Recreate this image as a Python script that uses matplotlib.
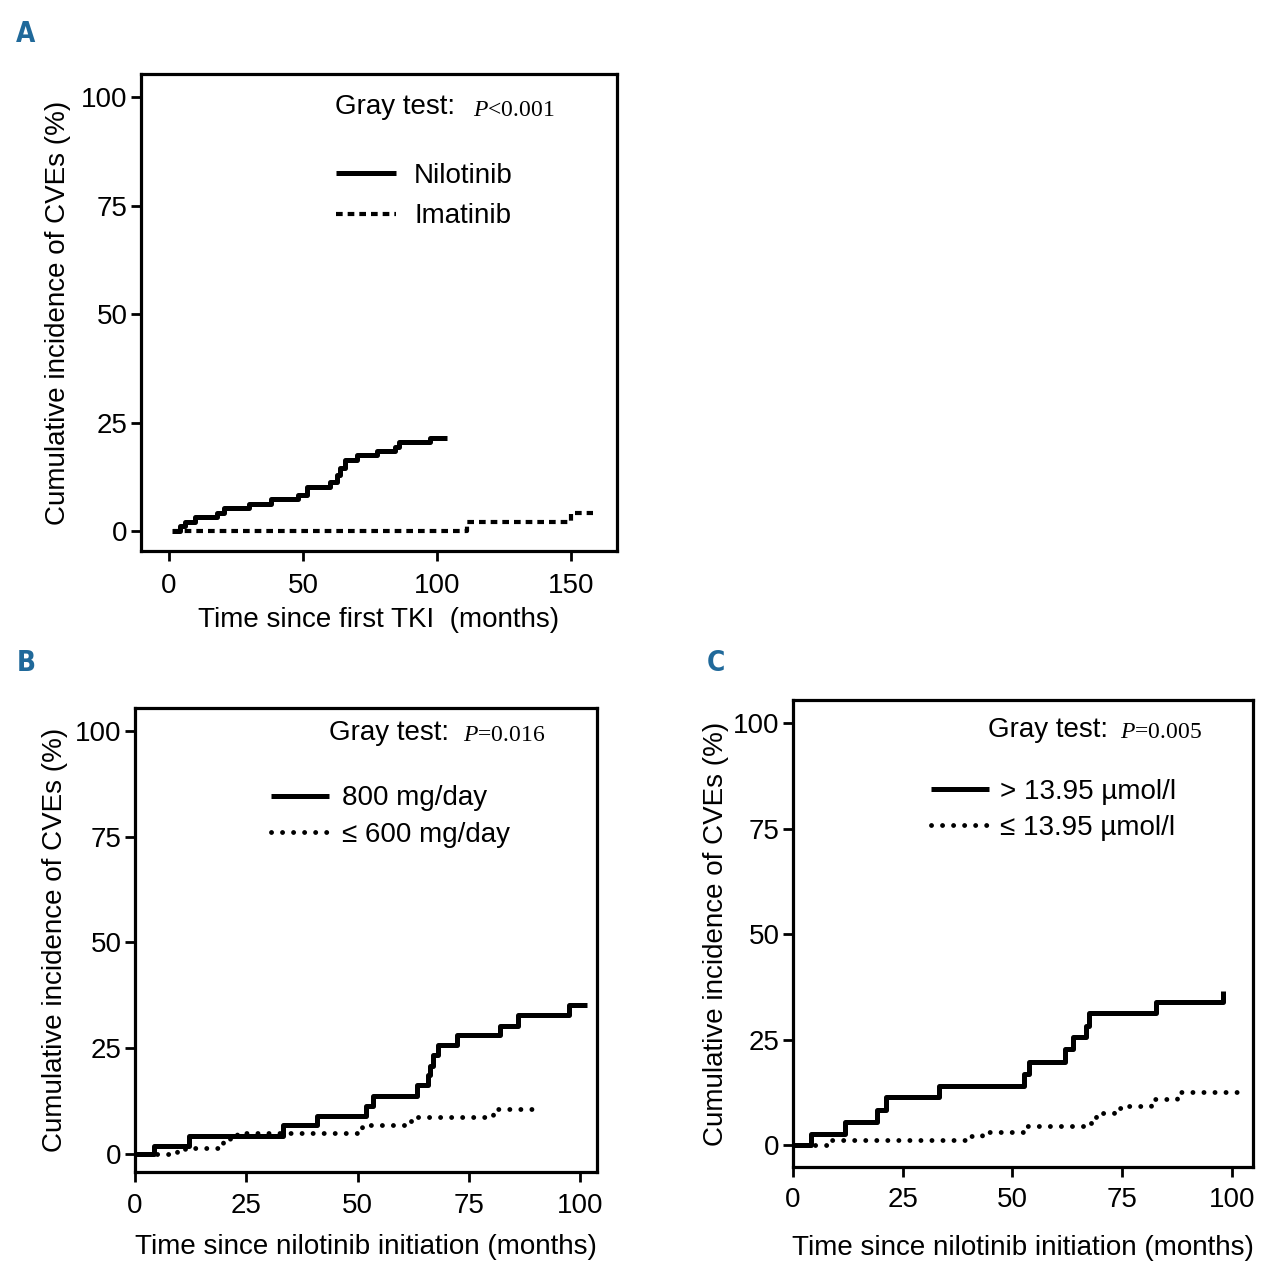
import matplotlib
matplotlib.use("Agg")
import matplotlib.pyplot as plt

plt.rcParams['font.family'] = ['Liberation Sans', 'DejaVu Sans']
plt.rcParams['mathtext.fontset'] = 'custom'
plt.rcParams['mathtext.it'] = 'Liberation Serif:italic'
plt.rcParams['mathtext.rm'] = 'Liberation Serif'

# panel A : time since first TKI
a_nilo_t = [1, 4, 6, 9.7, 17.9, 20.7, 30, 38, 48, 51.4, 60, 62.5, 63.8, 65.7, 70, 77.5, 84.4, 85.6, 97.5, 103.6]
a_nilo_y = [0, 1.2, 2, 3.3, 4.2, 5.3, 6.2, 7.4, 8.3, 10.1, 11.3, 12.9, 14.5, 16.4, 17.5, 18.5, 19.4, 20.5, 21.4, 21.4]
a_ima_t = [1.5, 111, 150, 158]
a_ima_y = [0, 2.1, 4.1, 4.1]

# panel B : nilotinib dose
b_800_t = [0, 4.3, 12.2, 33.2, 40.8, 52, 53.4, 63.3, 65.8, 66.3, 67, 68, 72.3, 81.9, 86.1, 97.4, 101.5]
b_800_y = [0, 1.9, 4.2, 6.8, 9.0, 11.3, 13.7, 16.3, 18.7, 20.8, 23.4, 25.8, 28.1, 30.3, 32.7, 35.1, 35.1]
b_600_t = [0, 9.4, 11.2, 19.7, 21.3, 23, 51, 62, 80.5, 90.6]
b_600_y = [0, 0.8, 1.3, 3.1, 4.1, 5.0, 6.9, 8.8, 10.7, 10.7]

# panel C : glycemia threshold
c_hi_t = [0, 4.0, 11.8, 19.2, 21.3, 33.2, 52.6, 53.8, 62, 63.9, 66.7, 67.4, 82.7, 98]
c_hi_y = [0, 2.6, 5.5, 8.3, 11.3, 14.1, 16.8, 19.7, 22.7, 25.7, 28.2, 31.2, 34.0, 36.6]
c_lo_t = [0, 8.0, 40.5, 43, 52.6, 66.5, 68, 69, 73.1, 75.2, 81.5, 87.6, 103]
c_lo_y = [0, 1.3, 2.2, 3.0, 4.6, 5.1, 6.2, 7.7, 8.9, 9.3, 10.9, 12.5, 12.5]

yticks = [0, 25, 50, 75, 100]
ylab = "Cumulative incidence of CVEs (%)"
blue = '#20699a'
fs = 20

fig = plt.figure(figsize=(12.71, 12.80), dpi=100)

def setup(ax, xlim, ylim, xticks, xlabel, xpad, xlpad, ylpad):
    ax.set_xlim(*xlim)
    ax.set_ylim(*ylim)
    ax.set_xticks(xticks)
    ax.set_yticks(yticks)
    for s in ax.spines.values():
        s.set_linewidth(2.3)
    ax.tick_params(direction='out', length=7, width=2, labelsize=fs)
    ax.tick_params(axis='y', pad=2.5)
    ax.tick_params(axis='x', pad=xpad)
    ax.set_xlabel(xlabel, fontsize=fs, labelpad=xlpad)
    ax.set_ylabel(ylab, fontsize=fs, labelpad=ylpad)

def gray(ax, x, y, xp, ptxt):
    ax.text(x, y, "Gray test:", transform=ax.transAxes, fontsize=fs, va='center')
    ax.text(xp, y - 0.006, ptxt, transform=ax.transAxes, fontsize=17, va='center',
            family='Liberation Serif')

solid = dict(color='black', lw=3.6, where='post', solid_capstyle='butt')
dots = dict(color='black', lw=3.5, where='post', linestyle=(0, (0.01, 2.26)),
            dash_capstyle='round')

# A
axA = fig.add_axes([0.1109, 0.5695, 0.3745, 0.3727])
axA.step(a_nilo_t, a_nilo_y, label='Nilotinib', **solid)
axA.step(a_ima_t, a_ima_y, color='black', lw=3.0, where='post',
         linestyle=(0, (1.6, 1.2)), label='Imatinib')
setup(axA, (-10.4, 167), (-4.6, 105.3), [0, 50, 100, 150],
      "Time since first TKI  (months)", 8.5, 6, 7.5)
gray(axA, 0.4076, 0.93, 0.697, r"$\mathit{P}$<0.001")
axA.legend(loc='upper left', bbox_to_anchor=(0.4105, 0.813), frameon=False, fontsize=fs,
           handlelength=2.15, handletextpad=0.65, labelspacing=0.51, borderpad=0, borderaxespad=0)

# B
axB = fig.add_axes([0.1062, 0.0844, 0.3635, 0.3625])
axB.step(b_800_t, b_800_y, label='800 mg/day', **solid)
axB.step(b_600_t, b_600_y, label='≤ 600 mg/day', **dots)
setup(axB, (0, 103.8), (-4.3, 105.4), [0, 25, 50, 75, 100],
      "Time since nilotinib initiation (months)", 8.3, 10.3, 5.5)
gray(axB, 0.42, 0.946, 0.71, r"$\mathit{P}$=0.016")
axB.legend(loc='upper left', bbox_to_anchor=(0.294, 0.8335), frameon=False, fontsize=fs,
           handlelength=2.1, handletextpad=0.45, labelspacing=0.37, borderpad=0, borderaxespad=0)

# C
axC = fig.add_axes([0.6239, 0.0883, 0.3619, 0.3648])
axC.step(c_hi_t, c_hi_y, label='> 13.95 µmol/l', **solid)
axC.step(c_lo_t, c_lo_y, label='≤ 13.95 µmol/l', **dots)
setup(axC, (0, 104.8), (-5.2, 105.5), [0, 25, 50, 75, 100],
      "Time since nilotinib initiation (months)", 7.6, 15.4, 3)
gray(axC, 0.424, 0.936, 0.711, r"$\mathit{P}$=0.005")
axC.legend(loc='upper left', bbox_to_anchor=(0.30, 0.831), frameon=False, fontsize=fs,
           handlelength=2.1, handletextpad=0.4, labelspacing=0.35, borderpad=0, borderaxespad=0)

for lab, x, y in [('A', 26, 34), ('B', 26, 663), ('C', 716, 663)]:
    fig.text(x / 1271, 1 - y / 1280, lab, color=blue, fontsize=20, fontweight='bold',
             fontstretch='condensed', ha='center', va='center',
             family=['DejaVu Sans Condensed', 'Liberation Sans Narrow', 'DejaVu Sans'])

fig.savefig("out.png", dpi=100)
